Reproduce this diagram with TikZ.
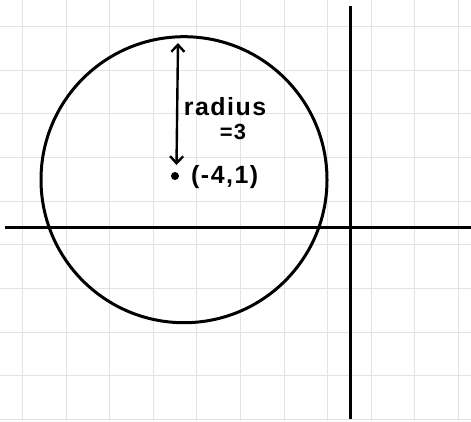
\documentclass[tikz,border=0pt]{standalone}
\usepackage{fontspec}
\newfontfamily\hand[LetterSpace=6]{Liberation Sans}
\usetikzlibrary{arrows.meta}
\tikzset{
  gridline/.style={draw=black!11, line width=1bp},
  axis/.style={draw=black, line width=3.2bp},
  curve/.style={draw=black, line width=3bp},
  arr/.style={draw=black, line width=2.4bp, {Straight Barb[length=7bp,width=13bp]}-{Straight Barb[length=7bp,width=13bp]}},
  lbl/.style={font=\hand\bfseries\fontsize{25}{28}\selectfont, inner sep=0pt, text=black},
  lblsmall/.style={font=\hand\bfseries\fontsize{22}{24}\selectfont, inner sep=0pt, text=black},
}
\begin{document}
\begin{tikzpicture}[x=1bp,y=-1bp]
\useasboundingbox (0,0) rectangle (471,421);
\fill[white] (0,0) rectangle (471,421);
% grid
\foreach \gx in {22.5,66,109.6,153.2,196.8,240.4,284,327.6,371.2,414.8,458.4}
  \draw[gridline] (\gx,0) -- (\gx,421);
\foreach \gy in {26.3,70,113.7,157.3,201,244.7,288.3,332,375.7,419.3}
  \draw[gridline] (0,\gy) -- (471,\gy);
% axes
\coordinate (xl) at (5,227.7);
\coordinate (xr) at (471,227.7);
\coordinate (yt) at (350.7,6);
\coordinate (yb) at (350.7,419);
\draw[axis] (xl) -- (xr);
\draw[axis] (yt) -- (yb);
% circle
\coordinate (c) at (184,179.7);
\draw[curve] (c) circle[radius=143];
% center dot
\node[circle, fill=black, inner sep=0pt, minimum size=8bp] (dot) at (175,176) {};
% radius arrow
\coordinate (at) at (178,43);
\coordinate (ab) at (176.5,165);
\draw[arr] (at) -- (ab);
% labels
\node[lbl, anchor=base] (rad) at (225,115) {radius};
\node[lblsmall, anchor=base] (eq) at (233,139) {=3};
\node[lbl, anchor=base west] (pt) at (191,183) {(-4,1)};
\end{tikzpicture}
\end{document}
